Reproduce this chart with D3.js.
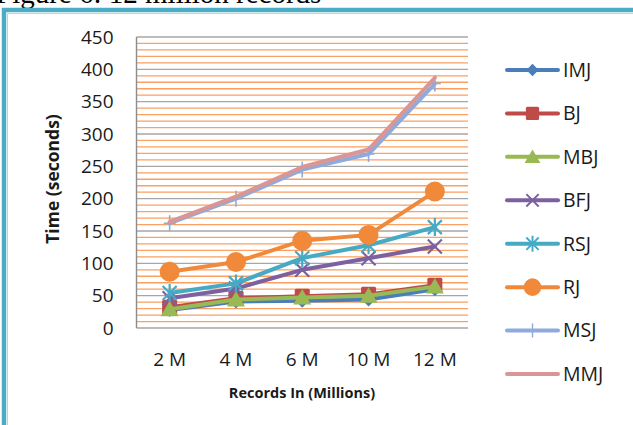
<!DOCTYPE html>
<html>
<head>
<meta charset="utf-8">
<script src="https://cdn.jsdelivr.net/npm/d3@7"></script>
<style>
  html, body { margin: 0; padding: 0; background: #fff; }
  svg { display: block; }
  text { font-family: "Open Sans", "Noto Sans", sans-serif; fill: #1a1a1a; }
</style>
</head>
<body>
<svg id="chart" width="633" height="425"></svg>
<script>
// Join algorithms timed on growing record counts
const categories = ["2 M", "4 M", "6 M", "10 M", "12 M"];
const seriesNames = ["IMJ", "BJ", "MBJ", "BFJ", "RSJ", "RJ", "MSJ", "MMJ"];
const IMJ = [28, 41, 42, 44, 60];
const BJ  = [32, 46, 49, 52, 66];
const MBJ = [29, 44, 47, 50, 64];
const BFJ = [46, 61, 90, 108, 126];
const RSJ = [54, 69, 108, 128, 156];
const RJ  = [87, 102, 135, 144, 211];
const MSJ = [162, 200, 245, 269, 378];
const MMJ = [164, 203, 249, 276, 387];
const yTicks = [0, 50, 100, 150, 200, 250, 300, 350, 400, 450];
const minorTicks = d3.range(0, 451, 10).filter(v => v % 50 !== 0);

const seriesValues = [IMJ, BJ, MBJ, BFJ, RSJ, RJ, MSJ, MMJ];
const colors = ["#4A7EBB", "#BE4B48", "#98B954", "#7D60A0", "#46AAC5", "#F0893A", "#8FAADC", "#D99694"];
const markers = ["diamond", "square", "triangle", "x", "star", "circle", "plus", "none"];

const svg = d3.select("#chart");

// caption above the frame
svg.append("text")
  .attr("x", -4).attr("y", 3)
  .style("font-family", "'Liberation Serif', 'DejaVu Serif', serif")
  .style("font-size", "29px")
  .style("fill", "#000")
  .text("Figure 6: 12 million records");

// teal chart frame
svg.append("rect")
  .attr("x", 4).attr("y", 10).attr("width", 640).attr("height", 430)
  .attr("fill", "#fff").attr("stroke", "#4BACC6").attr("stroke-width", 4.5);
svg.append("path")
  .attr("d", "M7.5,440V13.5H640")
  .attr("fill", "none").attr("stroke", "#A9DAE6").attr("stroke-width", 1);

const x = d3.scaleBand().domain(categories).range([136.5, 468]).padding(0);
const y = d3.scaleLinear().domain([0, 450]).range([328, 37]);
const cx = d => x(d) + x.bandwidth() / 2;

// gridlines: orange minor lines, gray major lines
const grid = svg.append("g");
grid.selectAll("line.minor").data(minorTicks).join("line")
  .attr("x1", x.range()[0]).attr("x2", x.range()[1])
  .attr("y1", d => y(d)).attr("y2", d => y(d))
  .attr("stroke", "#F9A062").attr("stroke-width", 1.3);
grid.selectAll("line.major").data(yTicks).join("line")
  .attr("x1", x.range()[0]).attr("x2", x.range()[1])
  .attr("y1", d => y(d)).attr("y2", d => y(d))
  .attr("stroke", "#A6A6A6").attr("stroke-width", 1.4);
grid.append("line")
  .attr("x1", x.range()[0]).attr("x2", x.range()[0])
  .attr("y1", y(450)).attr("y2", y(0))
  .attr("stroke", "#8C8C8C").attr("stroke-width", 1.4);

// axes
const yAxis = svg.append("g")
  .attr("transform", `translate(${x.range()[0]},0)`)
  .call(d3.axisLeft(y).tickValues(yTicks).tickSize(0).tickPadding(23));
yAxis.select(".domain").remove();
yAxis.selectAll("text").style("font-size", "19px").style("font-family", "'Open Sans', sans-serif").attr("fill", "#1a1a1a");

const xAxis = svg.append("g")
  .attr("transform", `translate(0,${y(0)})`)
  .call(d3.axisBottom(x).tickSize(0).tickPadding(25));
xAxis.select(".domain").remove();
xAxis.selectAll("text").style("font-size", "19px").style("font-family", "'Open Sans', sans-serif").attr("fill", "#1a1a1a");

// axis titles
svg.append("text")
  .attr("x", 302).attr("y", 398)
  .attr("text-anchor", "middle")
  .style("font-size", "14.5px").style("font-weight", "bold")
  .text("Records In (Millions)");
svg.append("text")
  .attr("transform", "translate(59,179) rotate(-90)")
  .attr("text-anchor", "middle")
  .style("font-size", "17.5px").style("font-weight", "bold")
  .text("Time (seconds)");

// marker painter
function drawMarker(g, type, color, s) {
  if (type === "diamond") {
    g.append("path").attr("d", `M0,${-7*s}L${7*s},0L0,${7*s}L${-7*s},0Z`).attr("fill", color);
  } else if (type === "square") {
    g.append("rect").attr("x", -7.5*s).attr("y", -7.5*s).attr("width", 15*s).attr("height", 15*s)
      .attr("rx", 1.5).attr("fill", color);
  } else if (type === "triangle") {
    g.append("path").attr("d", `M0,${-8.5*s}L${9*s},${7*s}L${-9*s},${7*s}Z`).attr("fill", color);
  } else if (type === "x") {
    g.append("path").attr("d", `M${-7*s},${-7*s}L${7*s},${7*s}M${7*s},${-7*s}L${-7*s},${7*s}`)
      .attr("stroke", color).attr("stroke-width", 2.2*s);
  } else if (type === "star") {
    g.append("path").attr("d", `M${-7*s},${-7*s}L${7*s},${7*s}M${7*s},${-7*s}L${-7*s},${7*s}M0,${-9*s}V${9*s}`)
      .attr("stroke", color).attr("stroke-width", 2.2*s);
  } else if (type === "circle") {
    g.append("circle").attr("r", 10*s).attr("fill", color);
  } else if (type === "plus") {
    g.append("path").attr("d", `M0,${-8*s}V${8*s}M${-6*s},0H${6*s}`)
      .attr("stroke", color).attr("stroke-width", 1.6*s);
  }
}

// series lines and markers
const line = d3.line().x((d, i) => cx(categories[i])).y(d => y(d));
seriesNames.forEach((name, k) => {
  const g = svg.append("g").attr("class", "series");
  g.append("path").datum(seriesValues[k])
    .attr("d", line).attr("fill", "none")
    .attr("stroke", colors[k]).attr("stroke-width", 4)
    .attr("stroke-linejoin", "round").attr("stroke-linecap", "round");
  seriesValues[k].forEach((v, i) => {
    const m = g.append("g").attr("transform", `translate(${cx(categories[i])},${y(v)})`);
    drawMarker(m, markers[k], colors[k], 1);
  });
});

// legend
const legend = svg.append("g");
const legendY = d3.scalePoint().domain(seriesNames).range([70, 374]);
seriesNames.forEach((name, k) => {
  const g = legend.append("g").attr("transform", `translate(0,${legendY(name)})`);
  g.append("line").attr("x1", 507).attr("x2", 558).attr("y1", 0).attr("y2", 0)
    .attr("stroke", colors[k]).attr("stroke-width", 4).attr("stroke-linecap", "round");
  const m = g.append("g").attr("transform", "translate(532.5,0)");
  drawMarker(m, markers[k], colors[k], 0.88);
  g.append("text").attr("x", 563).attr("y", 0).attr("dy", "0.35em")
    .style("font-size", "19.5px").text(name);
});
</script>
</body>
</html>
